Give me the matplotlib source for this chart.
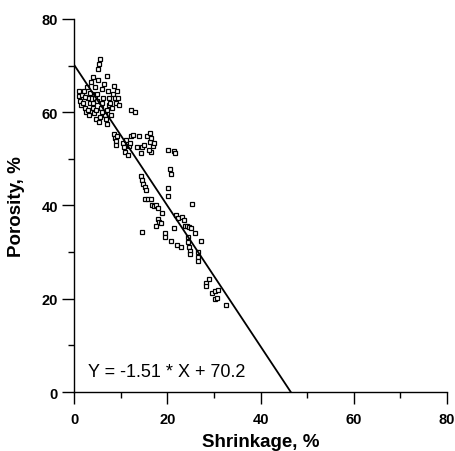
import numpy as np
import matplotlib
matplotlib.use('Agg')
import matplotlib.pyplot as plt
from matplotlib.ticker import MultipleLocator

plt.rcParams['font.family'] = ['Liberation Sans', 'DejaVu Sans']

# shrinkage (%) and porosity (%)
shrinkage = [
    1.0, 1.0, 1.2, 1.4, 1.8, 2.0, 2.2, 2.4, 2.6, 2.8, 3.0, 3.0, 3.2, 3.4, 3.6,
    3.8, 4.0, 4.0, 4.2, 4.4, 4.6, 4.8, 4.8, 5.0, 5.0, 5.2, 5.2, 5.4, 5.6, 5.4,
    5.6, 5.8, 6.0, 6.0, 6.2, 6.4, 6.6, 6.8, 7.0, 7.1, 7.2, 7.4, 7.6, 7.8, 8.0,
    8.2, 8.4, 8.6, 8.8, 9.0, 9.2, 9.4, 9.6, 8.6, 8.8, 8.9, 9.0, 9.3, 3.4, 2.4,
    6.0, 4.0, 7.0,
    10.5, 10.8, 11.0, 11.2, 11.5, 11.8, 12.0, 12.2, 12.2, 12.7, 13.1, 13.9,
    13.5, 14.4, 14.6, 15.0, 15.7, 16.3, 16.4, 16.6, 16.9, 17.2, 16.5, 16.0,
    20.2, 21.4, 21.7,
    14.4, 14.6, 14.9, 15.2, 15.4, 20.8, 20.6, 20.2, 20.2, 15.2, 15.8, 16.5,
    16.7, 17.2, 17.6, 18.0, 18.9, 18.0, 18.3, 18.7, 17.6, 21.4, 14.6, 19.5,
    19.5, 20.8, 21.8, 22.2, 23.2, 23.5, 23.8, 24.2, 24.6, 25.3, 25.0, 26.0,
    27.2, 24.5, 24.5, 24.6, 24.8, 24.9, 22.0, 23.0, 26.6, 26.6, 26.6, 29.0,
    28.3, 28.3, 29.6, 30.2, 30.9, 30.2, 30.7, 32.6,
]
porosity = [
    64.5, 63.5, 62.5, 61.5, 63.8, 62.0, 64.5, 61.0, 60.0, 65.5, 63.0, 60.5,
    59.5, 62.0, 66.5, 64.0, 67.5, 61.0, 59.8, 63.0, 65.5, 58.5, 60.5, 62.5,
    64.0, 67.0, 69.3, 70.4, 71.4, 57.8, 59.0, 61.0, 62.0, 65.0, 63.0, 66.0,
    59.5, 58.5, 60.5, 67.8, 64.5, 61.5, 63.0, 62.0, 59.5, 61.0, 64.0, 65.6,
    63.0, 62.0, 64.5, 63.0, 61.5, 55.3, 54.5, 53.8, 53.0, 55.0, 64.2, 63.2,
    60.0, 62.0, 57.5,
    53.5, 52.5, 51.5, 54.0, 50.8, 52.8, 53.5, 54.8, 60.5, 55.1, 60.0, 54.9,
    52.5, 51.3, 52.5, 53.0, 55.0, 55.6, 53.6, 54.4, 52.8, 53.5, 51.5, 52.0,
    51.8, 51.6, 51.2,
    46.3, 45.5, 44.7, 44.0, 43.3, 46.8, 47.8, 43.8, 42.0, 41.5, 41.5, 41.3,
    40.0, 39.8, 40.2, 39.5, 38.4, 37.0, 36.5, 36.3, 35.6, 35.2, 34.3, 34.0,
    33.3, 32.4, 38.0, 37.3, 37.6, 36.8, 35.6, 35.6, 35.4, 40.3, 35.2, 34.1,
    32.4, 33.3, 32.2, 31.0, 30.2, 29.5, 31.5, 31.0, 30.0, 29.0, 28.0, 24.2,
    23.4, 22.7, 21.2, 21.6, 21.9, 19.9, 20.2, 18.7,
]

slope = -1.51
intercept = 70.2

fig = plt.figure(figsize=(4.56, 4.52), dpi=100)
ax = fig.add_axes([0.1623, 0.1305, 0.818, 0.8253])

ax.plot(shrinkage, porosity, 's', ms=3.2, mfc='white', mec='black', mew=0.9)

x_end = -intercept / slope
xs = np.array([0, x_end])
ax.plot(xs, slope * xs + intercept, color='black', lw=1.3)

ax.text(3.0, 4.5, 'Y = -1.51 * X + 70.2', fontsize=13, va='center', ha='left')

ax.set_xlim(0, 80)
ax.set_ylim(0, 80)
ax.xaxis.set_major_locator(MultipleLocator(20))
ax.xaxis.set_minor_locator(MultipleLocator(10))
ax.yaxis.set_major_locator(MultipleLocator(20))
ax.yaxis.set_minor_locator(MultipleLocator(10))

for s in ['top', 'right']:
    ax.spines[s].set_visible(False)
for s in ['left', 'bottom']:
    ax.spines[s].set_linewidth(1.0)

ax.tick_params(which='major', direction='out', length=8.5, width=1.0, labelsize=10.5)
ax.tick_params(which='minor', direction='out', length=4.5, width=1.0)
ax.tick_params(axis='x', which='major', pad=6)
ax.tick_params(axis='y', which='major', pad=3)
for lab in ax.get_xticklabels() + ax.get_yticklabels():
    lab.set_fontweight('bold')

ax.set_xlabel('Shrinkage, %', fontsize=13.5, fontweight='bold', labelpad=5)
ax.set_ylabel('Porosity, %', fontsize=13.5, fontweight='bold', labelpad=12)

fig.savefig('out.png', dpi=100)
